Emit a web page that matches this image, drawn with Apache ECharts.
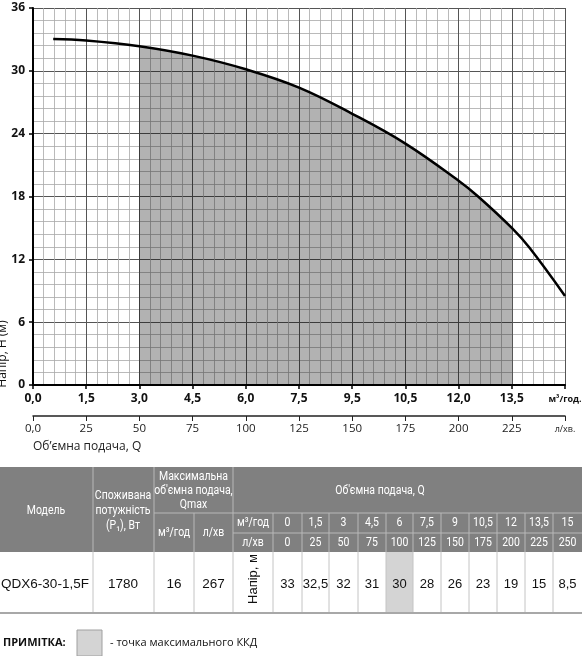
<!DOCTYPE html>
<html><head><meta charset="utf-8">
<script src="https://cdn.jsdelivr.net/npm/echarts@6.0.0/dist/echarts.min.js"></script>
<style>html,body{margin:0;padding:0;background:#fff}#c{width:582px;height:656px}</style>
</head><body><div id="c"></div>
<script>
// ---- curve data ----
const flowM3 = [0.57, 1.5, 3, 4.5, 6, 7.5, 9, 10.5, 12, 12.55, 13.5, 14.0, 15];
const headM  = [33.05, 32.9, 32.35, 31.45, 30.15, 28.4, 25.9, 23.05, 19.5, 18, 15.0, 13.1, 8.5];
const shadeFrom = 3, shadeTo = 13.5;
// ---- axis tick labels ----
const xTickLabels   = ['0,0','1,5','3,0','4,5','6,0','7,5','9,5','10,5','12,0','13,5','м³/год.'];
const lpmTickLabels = ['0,0','25','50','75','100','125','150','175','200','225','л/хв.'];
// ---- table ----
const tableFlowM3 = ['0','1,5','3','4,5','6','7,5','9','10,5','12','13,5','15'];
const tableFlowL  = ['0','25','50','75','100','125','150','175','200','225','250'];
const tableHead   = ['33','32,5','32','31','30','28','26','23','19','15','8,5'];
const modelName = 'QDX6-30-1,5F', powerW = '1780', qmaxM3 = '16', qmaxL = '267';
const bestCol = 4;

const curve = flowM3.map((q, i) => [q, headM[i]]);

const chart = echarts.init(document.getElementById('c'), null, {renderer: 'canvas'});

// table layout
const colX = [0,93,154,194,233,273,302,329,358,386,413,441,469,497,525,553,582];
const yTop = 467, yMid = 513, ySub = 533, yHdrBot = 552, yBot = 613;
const hdrFont = {fontFamily: 'Roboto', fontSize: 12.5, fill: '#fff'};
const g = [];
function txt(x, y, text, st, extra) {
  return Object.assign({type: 'text', x: x, y: y, z: 10,
    style: Object.assign({text: text, align: 'center', verticalAlign: 'middle'}, st)}, extra || {});
}
function ln(x1, y1, x2, y2, stroke, w) {
  return {type: 'line', z: 5, shape: {x1, y1, x2, y2}, style: {stroke: stroke, lineWidth: w || 1}};
}
g.push({type: 'rect', z: 1, shape: {x: 0, y: yTop, width: 582, height: yHdrBot - yTop}, style: {fill: '#808080'}});
const hl = '#b8b8b8';
[93, 154, 233].forEach(x => g.push(ln(x, yTop, x, yHdrBot, hl)));
g.push(ln(194, yMid, 194, yHdrBot, hl));
for (let i = 5; i < colX.length - 1; i++) g.push(ln(colX[i], yMid, colX[i], yHdrBot, hl));
g.push(ln(154, yMid, 582, yMid, hl));
g.push(ln(233, ySub, 582, ySub, hl));
// data row
g.push({type: 'rect', z: 1, shape: {x: colX[5 + bestCol], y: yHdrBot, width: colX[6 + bestCol] - colX[5 + bestCol], height: yBot - yHdrBot}, style: {fill: '#d4d4d4'}});
for (let i = 1; i < colX.length - 1; i++) g.push(ln(colX[i], yHdrBot, colX[i], yBot, '#c4c4c4'));
g.push(ln(0, yBot, 582, yBot, '#a8a8a8', 2));
// header texts
const sx = {scaleX: 0.84};
g.push(txt(46, 511, 'Модель', hdrFont, sx));
g.push(txt(123, 511, 'Споживана\nпотужність\n(P₁), Вт', Object.assign({lineHeight: 15}, hdrFont), sx));
g.push(txt(193.5, 491, 'Максимальна\nоб\'ємна подача,\nQmax', Object.assign({lineHeight: 14}, hdrFont), sx));
g.push(txt(174, 533, 'м³/год', hdrFont, sx));
g.push(txt(213.5, 533, 'л/хв', hdrFont, sx));
g.push(txt(380, 491, 'Об\'ємна подача, Q', hdrFont, sx));
g.push(txt(253, 523, 'м³/год', hdrFont, sx));
g.push(txt(253, 543, 'л/хв', hdrFont, sx));
for (let i = 0; i < tableFlowM3.length; i++) {
  const cx = (colX[5 + i] + colX[6 + i]) / 2;
  g.push(txt(cx, 523, tableFlowM3[i], hdrFont, sx));
  g.push(txt(cx, 543, tableFlowL[i], hdrFont, sx));
  g.push(txt(cx, 584, tableHead[i], {fontFamily: 'Liberation Sans', fontSize: 13, fill: '#111'}));
}
const rowFont = {fontFamily: 'Liberation Sans', fontSize: 13.5, fill: '#111'};
g.push(txt(45, 584, modelName, rowFont));
g.push(txt(123, 584, powerW, rowFont));
g.push(txt(174, 584, qmaxM3, rowFont));
g.push(txt(213.5, 584, qmaxL, rowFont));
g.push(txt(253, 579, 'Напір, м', {fontFamily: 'Liberation Sans', fontSize: 13, fill: '#111'}, {rotation: Math.PI / 2}));
// note
g.push(txt(3, 643, 'ПРИМІТКА:', {fontFamily: 'Open Sans', fontSize: 11, fontWeight: 'bold', fill: '#111', align: 'left'}));
g.push({type: 'rect', z: 2, shape: {x: 77, y: 630, width: 25, height: 26}, style: {fill: '#d4d4d4', stroke: '#a0a0a0', lineWidth: 1}});
g.push(txt(110, 643, '- точка максимального ККД', {fontFamily: 'Open Sans', fontSize: 11, fill: '#111', align: 'left'}));
// y axis name
g.push(txt(3, 354, 'Напір, Н (м)', {fontFamily: 'Open Sans', fontSize: 12, fill: '#111'}, {rotation: Math.PI / 2}));
// x axis title
g.push(txt(33, 447, 'Об’ємна подача, Q', {fontFamily: 'Open Sans', fontSize: 12, fill: '#222', align: 'left'}));

const option = {
  animation: false,
  backgroundColor: '#fff',
  grid: {left: 33, right: 17, top: 8, bottom: 271, outerBoundsMode: 'none', containLabel: false},
  xAxis: [{
    type: 'value', min: 0, max: 15, interval: 1.5,
    axisLine: {show: true, lineStyle: {color: '#000', width: 2}},
    axisTick: {show: true, length: 4, lineStyle: {color: '#000', width: 1.5}},
    axisLabel: {
      showMinLabel: true, showMaxLabel: true, margin: 8,
      fontFamily: 'Open Sans', fontWeight: 'bold', fontSize: 12, color: '#111',
      formatter: v => {
        const i = Math.round(v / 1.5);
        return i === xTickLabels.length - 1 ? '{u|' + xTickLabels[i] + '}' : xTickLabels[i];
      },
      rich: {u: {fontFamily: 'Open Sans', fontWeight: 'bold', fontSize: 9, color: '#111', padding: [2, 0, 0, 0]}}
    },
    splitLine: {show: true, lineStyle: {color: '#555', width: 1}},
    minorTick: {show: false, splitNumber: 5},
    minorSplitLine: {show: true, lineStyle: {color: '#a8a8a8', width: 0.8}}
  }, {
    type: 'value', min: 0, max: 250, interval: 25, position: 'bottom', offset: 31,
    axisLine: {show: true, lineStyle: {color: '#222', width: 1.5}},
    axisTick: {show: true, length: 5, lineStyle: {color: '#222', width: 1}},
    axisLabel: {
      showMinLabel: true, showMaxLabel: true, margin: 7,
      fontFamily: 'Open Sans', fontSize: 11.5, color: '#222',
      formatter: v => {
        const i = Math.round(v / 25);
        return i === lpmTickLabels.length - 1 ? '{u|' + lpmTickLabels[i] + '}' : lpmTickLabels[i];
      },
      rich: {u: {fontFamily: 'Open Sans', fontSize: 9, color: '#222', padding: [2, 0, 0, 0]}}
    },
    splitLine: {show: false}
  }],
  yAxis: {
    type: 'value', min: 0, max: 36, interval: 6,
    axisLine: {show: true, lineStyle: {color: '#000', width: 2}},
    axisTick: {show: true, length: 4, lineStyle: {color: '#000', width: 1.5}},
    axisLabel: {showMinLabel: true, showMaxLabel: true, margin: 8,
      fontFamily: 'Open Sans', fontWeight: 'bold', fontSize: 12, color: '#111'},
    splitLine: {show: true, lineStyle: {color: '#555', width: 1}},
    minorTick: {show: false, splitNumber: 5},
    minorSplitLine: {show: true, lineStyle: {color: '#a8a8a8', width: 0.8}}
  },
  visualMap: {
    type: 'piecewise', show: false, seriesIndex: 0, dimension: 0,
    pieces: [{gte: shadeFrom, lte: shadeTo, color: 'rgba(0,0,0,0.3)'}],
    outOfRange: {color: 'rgba(0,0,0,0)'}
  },
  series: [{
    type: 'line', data: curve, smooth: 0.4, showSymbol: false, silent: true, z: 1,
    lineStyle: {width: 0}, areaStyle: {opacity: 1}
  }, {
    type: 'line', data: curve, smooth: 0.4, showSymbol: false, silent: true, z: 3,
    lineStyle: {color: '#000', width: 2.5}, itemStyle: {color: '#000'}
  }],
  graphic: {elements: g}
};
chart.setOption(option);
</script>
</body></html>
